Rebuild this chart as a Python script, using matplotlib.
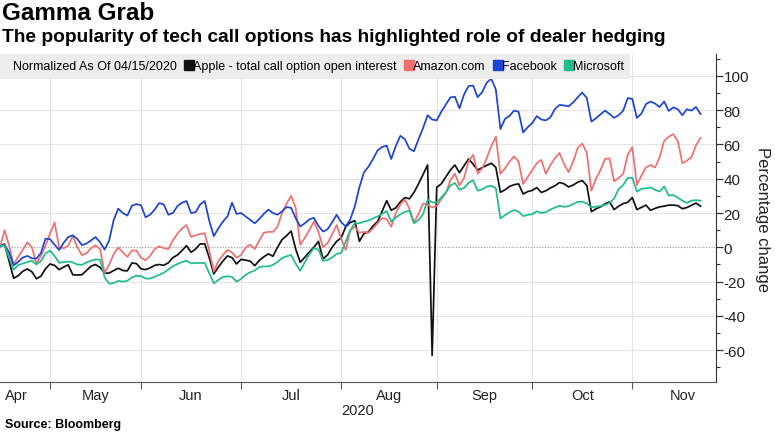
import matplotlib
matplotlib.use('Agg')
import matplotlib.pyplot as plt
from matplotlib.lines import Line2D
from matplotlib.ticker import MultipleLocator, FixedLocator, NullFormatter, FixedFormatter
import numpy as np
import pandas as pd

plt.rcParams['axes.unicode_minus'] = False
SANS = ['Liberation Sans', 'DejaVu Sans']

# trading days, normalized as of 04/15/2020
holidays = pd.to_datetime(['2020-05-25', '2020-07-03', '2020-09-07'])
days = pd.bdate_range('2020-04-15', '2020-11-20')
days = days[~days.isin(holidays)]

apple = [
    0.5, 1.9, -8, -18, -16.5, -14, -12.6, -14.2, -18.3, -16.8,
    -12.5, -9.7, -10.5, -13, -11.5, -10.2, -16, -16.1, -16, -13.5,
    -11, -10, -11.7, -15, -15, -13.5, -12.2, -13.5, -13.7, -9.1,
    -9.5, -12.5, -13, -12, -10.5, -10, -10.5, -9, -6, -4.5,
    -1.9, 1, -2.9, -1, 2, 2, -6, -15.5, -11.5, -8,
    -5, -6, -9.7, -7, -7.5, -8, -10.7, -7.6, -5.5, -3.8,
    -5.2, 0, 4.5, 6.8, 9.5, -1, -8.7, -5.8, -2.7, 0,
    3.5, -6.7, -4.5, 0, 3.5, 5.5, 12, 14.5, 15.5, 3.5,
    8, 9, 12.5, 15, 21, 27.2, 21.6, 23, 26.5, 29,
    28.3, 32, 37, 42.5, 48, -63, 35, 37, 41, 45,
    48, 43.5, 47.5, 51.5, 48.5, 45, 46.5, 47.8, 49, 46.6,
    32.1, 33.5, 35.5, 36.5, 37, 31.1, 32.5, 33.2, 34.8, 32,
    33, 34.6, 35.9, 37.8, 37, 35.2, 36.3, 38, 38.9, 36,
    20.8, 22.4, 23.6, 25.3, 26.5, 22, 24, 25.5, 26.3, 29,
    22, 23.3, 24.6, 21.6, 22.7, 23.6, 24, 24.6, 24.6, 24.3,
    22.5, 23.2, 24.5, 25.8, 24,
]
amazon = [
    0, 10, 1, -10, -5.5, -1.5, 2.9, 0, -9.5, -5,
    1, 8, 14.5, 0, -0.5, 1, 6.5, 0, -4.5, -3.5,
    -0.5, 1.2, -1, -15, -10, -4, 0, -3, -5.5, -1.9,
    -1.9, -6, -7.5, -5, -1, 0.6, -0.5, -1, 4, 8,
    11, 13, 6, 7, 7.8, 8.3, -2, -14, -8, -4.5,
    -1.5, -3, -6, -4.5, 0, 1.5, -1, 4, 8.5, 9,
    9, 12, 20, 25.5, 30, 23, 1.5, 5.5, 10, 15,
    9, 0, 2.5, 7.5, 13, 5, -1.5, 10, 12, 8.5,
    9, 8.5, 11, 14, 17, 16.5, 12, 20, 25, 28,
    22.5, 14.6, 19.5, 25.5, 25, 23.2, 24, 28, 31.5, 39,
    43, 36, 40.5, 50, 54, 43, 46, 52, 59, 64.5,
    42.8, 46, 50, 53, 50, 36.9, 41, 45, 49, 51,
    42.8, 48, 52, 55, 48.5, 43.8, 50, 58, 60.5, 55,
    33, 40, 45, 51.5, 51.8, 38.5, 40.5, 42.8, 54, 58.5,
    36.3, 41.8, 46.6, 48, 46.5, 52.5, 62, 64.5, 66, 62,
    49, 50.5, 52.5, 59.5, 63.8,
]
facebook = [
    0.6, 1.6, -3, -10.5, -8.5, -6, -5, -6.4, -6.6, -3.3,
    5, 4.8, 1.5, -1.6, 2.7, 6, 7, 4.9, 1.3, 2.2,
    4, 6, 3, -1.3, 4, 16, 22.5, 20, 18.5, 24.3,
    25.2, 24.5, 17.5, 19, 22, 25.8, 25, 19, 20, 24,
    26, 27, 20, 20.5, 25, 27, 15.5, 6.5, 11.1, 15,
    18, 26, 19.5, 20, 18, 16, 14, 16.5, 19.5, 22,
    20, 19, 21, 23.5, 23, 17, 12.2, 14, 16.3, 17.2,
    12.5, 9.2, 10.5, 14.5, 19, 14.6, 12.2, 16.3, 24, 35,
    43.7, 47, 51.5, 56.5, 58.5, 59.3, 51.5, 59, 65, 63,
    57.5, 56, 63, 69.5, 77, 74.5, 74, 79, 83.2, 87.4,
    87.8, 81, 89, 94, 94.3, 87.5, 90.5, 96, 98.3, 92,
    69, 74.8, 76.6, 79.7, 79, 67, 70, 72.5, 76.5, 74.5,
    74, 75.8, 80.7, 83, 82.7, 82.2, 84.5, 87.5, 90.2, 87,
    73.3, 75.2, 77.5, 79.7, 77.7, 75.5, 77, 79.7, 87, 86.5,
    75.4, 78, 83.5, 85, 83.8, 81.8, 85, 79.5, 81.6, 80.5,
    77, 80.5, 79.7, 81.8, 77.7,
]
microsoft = [
    0.5, 1.2, -6, -13, -10.3, -9.5, -8.6, -7.8, -10, -8,
    -3.5, -1.9, -5, -9, -8.6, -8.3, -8.8, -10, -10.2, -8.8,
    -7.8, -7, -7.2, -17.5, -21.2, -20.8, -19.5, -20, -19.5, -17.5,
    -16.5, -16.8, -18.2, -18.2, -17.2, -16, -14.8, -13, -11, -9.7,
    -8.6, -7.8, -9.4, -9.1, -9.1, -9.1, -15, -21, -19, -17.2,
    -16.9, -17.2, -20, -18.4, -16, -14.5, -13.5, -11.5, -11.1, -11.1,
    -10.2, -8.5, -6.3, -5.2, -4.5, -9.5, -13.6, -8.8, -4, -0.5,
    -1.3, -7.8, -7.4, -6, -3.8, -3.3, 3.5, 9.8, 14.2, 14,
    15, 15.6, 16.9, 18, 19.5, 21.2, 15, 17.4, 19.2, 20.7,
    21.4, 14, 16, 19.3, 27.8, 26.2, 26.2, 29, 32, 36,
    37.5, 33.6, 34.6, 37.5, 39.1, 33, 33.8, 35.4, 35.9, 34.5,
    16.9, 18.7, 20.5, 21.7, 20.8, 18.2, 18.9, 19.3, 21, 20,
    20.5, 22, 23.2, 24.3, 23.6, 24, 25.3, 26.5, 26.6, 25.6,
    23.3, 23.7, 24, 24.7, 25.9, 28.5, 34, 36.3, 40.5, 40.5,
    32.5, 34.1, 34.4, 34.9, 33.6, 32.5, 35.5, 30.2, 30.5, 29,
    27.2, 25.9, 27.2, 27.5, 27.2,
]

series = ['Apple - total call option open interest', 'Amazon.com', 'Facebook', 'Microsoft']
colors = ['#111111', '#f36f6f', '#1c44d4', '#1fbc8c']
months = ['Apr', 'May', 'Jun', 'Jul', 'Aug', 'Sep', 'Oct', 'Nov']
yticks = [-60, -40, -20, 0, 20, 40, 60, 80, 100]

n = min(len(days), len(apple), len(amazon), len(facebook), len(microsoft))
x = np.arange(n)
xmax = 157.4

# month boundaries (last trading day of previous month)
month_num = days[:n].month
bounds = [int(np.argmax(month_num == m)) - 1 for m in range(5, 12)]
edges = [-4] + bounds + [161]
centers = [(edges[k] + edges[k + 1]) / 2 for k in range(len(months))]

fig = plt.figure(figsize=(7.75, 4.35), dpi=100)
ax = fig.add_axes([0, 0.1195, 0.9239, 0.7541])
renderer = fig.canvas.get_renderer()


def fit_width(artist, size, target_px):
    # scale a text's font size so that it spans target_px
    artist.set_fontsize(size)
    w = artist.get_window_extent(renderer).width
    artist.set_fontsize(size * target_px / w)


for v in yticks:
    if v == 0:
        ax.axhline(v, color='#9a9a9a', lw=0.8, ls=(0, (1, 1.5)), zorder=1)
    else:
        ax.axhline(v, color='#e4e4e4', lw=0.8, zorder=1)
for b in bounds:
    ax.axvline(b, color='#e4e4e4', lw=0.8, zorder=1)

for vals, c in zip([apple, amazon, facebook, microsoft], colors):
    ax.plot(x, vals[:n], color=c, lw=1.25, zorder=3)

ax.set_xlim(0, xmax)
ax.set_ylim(-78.5, 112.7)

ax.yaxis.tick_right()
ax.yaxis.set_label_position('right')
ax.yaxis.set_major_locator(FixedLocator(yticks))
ax.yaxis.set_minor_locator(MultipleLocator(10))
ax.tick_params(axis='y', which='major', length=5, width=0.9, color='#333333',
               labelsize=11, pad=0.5, labelcolor='#222222')
ax.tick_params(axis='y', which='minor', length=3, width=0.8, color='#333333')
for lab in ax.get_yticklabels():
    lab.set_family(SANS)
ax.set_ylabel('Percentage change', rotation=270, fontsize=12, labelpad=15,
              color='#222222', family=SANS)

ax.xaxis.set_major_locator(FixedLocator(bounds))
ax.xaxis.set_major_formatter(NullFormatter())
ax.xaxis.set_minor_locator(FixedLocator(centers))
ax.xaxis.set_minor_formatter(FixedFormatter(months))
ax.tick_params(axis='x', which='major', length=5, width=0.8, color='#555555')
ax.tick_params(axis='x', which='minor', length=0, pad=4, labelsize=10.5, labelcolor='#222222')
for lab in ax.get_xticklabels(minor=True):
    lab.set_family(SANS)
ax.set_xlabel('2020', fontsize=10.5, family=SANS, labelpad=1, color='#222222')

for s in ['left', 'top']:
    ax.spines[s].set_visible(False)
ax.spines['right'].set_color('#333333')
ax.spines['bottom'].set_color('#555555')

handles = [Line2D([], [], linestyle='none')]
labels = ['Normalized As Of 04/15/2020']
for name, c in zip(series, colors):
    handles.append(Line2D([], [], marker='s', linestyle='none', color=c, markersize=6.5))
    labels.append(name)


def make_legend(size):
    leg = ax.legend(handles, labels, ncol=5, loc='upper left', bbox_to_anchor=(0, 1),
                    borderaxespad=0, frameon=True, fancybox=False, facecolor='#ededed',
                    edgecolor='none', framealpha=1, handlelength=0.4, handletextpad=0.1,
                    columnspacing=0.8, borderpad=0.5, prop={'family': SANS, 'size': size})
    leg.set_zorder(5)
    return leg


leg = make_legend(10)
w = leg.get_window_extent(renderer).width
leg = make_legend(10 * 632 / w)

title = fig.text(0.002, 0.995, 'Gamma Grab', fontweight='bold', family=SANS, va='top')
fit_width(title, 18, 152)
sub = fig.text(0.002, 0.933, 'The popularity of tech call options has highlighted role of dealer hedging',
               fontweight='bold', family=SANS, va='top')
fit_width(sub, 13, 662)
src = fig.text(0.006, 0.023, 'Source: Bloomberg', fontweight='bold', family=SANS, va='center')
fit_width(src, 9.5, 116)

fig.savefig('out.png', dpi=100)
